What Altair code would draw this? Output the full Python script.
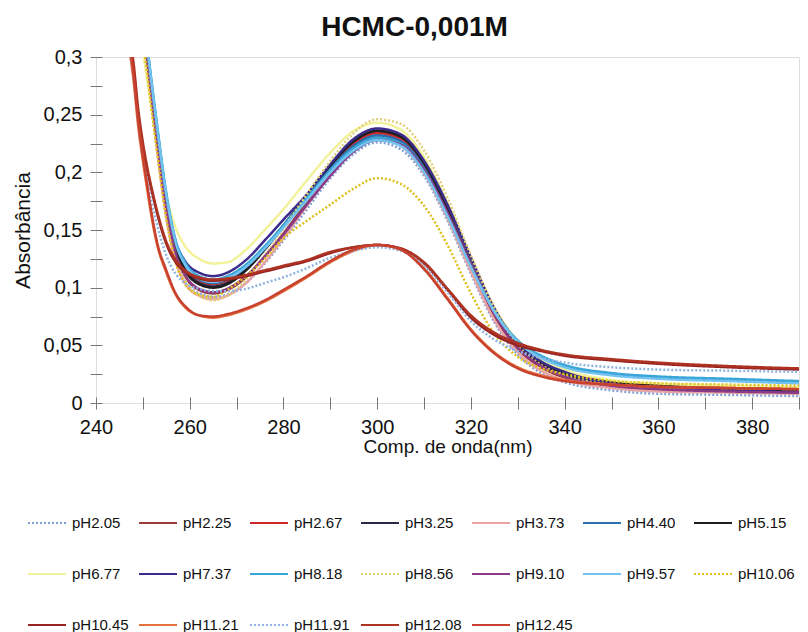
import altair as alt
import pandas as pd

# ---------------- data ----------------
wavelengths = [247, 248, 249, 250, 251, 252, 253, 255, 257, 259, 262, 265, 268, 272, 276, 280,
               285, 290, 295, 300, 305, 310, 315, 320, 325, 330, 335, 340, 350, 360, 375, 390]

series_names = ["pH2.05", "pH2.25", "pH2.67", "pH3.25", "pH3.73", "pH4.40", "pH5.15",
                "pH6.77", "pH7.37", "pH8.18", "pH8.56", "pH9.10", "pH9.57", "pH10.06",
                "pH10.45", "pH11.21", "pH11.91", "pH12.08", "pH12.45"]

series_colors = ["#7f9fd6", "#9c3a3a", "#d0282a", "#262a48", "#e8a4a4", "#2c6fad", "#1e1e1e",
                 "#f2f29a", "#3b2c8c", "#3aa6d8", "#e2cf78", "#8b3a86", "#72c3f0", "#e0bf1c",
                 "#962222", "#e4703e", "#8fb3e3", "#ad3222", "#c8402e"]

series_dashes = [[2, 2], [1, 0], [1, 0], [1, 0], [1, 0], [1, 0], [1, 0],
                 [1, 0], [1, 0], [1, 0], [2, 2], [1, 0], [1, 0], [2, 2],
                 [1, 0], [1, 0], [2, 2], [1, 0], [1, 0]]

ph2_05 = [0.41, 0.38, 0.35, 0.32, 0.29, 0.255, 0.222, 0.163, 0.125, 0.106, 0.095, 0.092, 0.094, 0.104, 0.121, 0.141,
          0.168, 0.195, 0.216, 0.226, 0.220, 0.197, 0.158, 0.112, 0.070, 0.042, 0.026, 0.018, 0.011, 0.008, 0.007, 0.006]
ph2_25 = [0.41, 0.38, 0.35, 0.32, 0.29, 0.256, 0.224, 0.166, 0.128, 0.110, 0.098, 0.095, 0.098, 0.109, 0.127, 0.147,
          0.174, 0.200, 0.222, 0.232, 0.227, 0.204, 0.165, 0.119, 0.076, 0.047, 0.031, 0.022, 0.015, 0.012, 0.011, 0.010]
ph2_67 = [0.41, 0.38, 0.35, 0.32, 0.292, 0.259, 0.228, 0.171, 0.134, 0.117, 0.106, 0.103, 0.106, 0.117, 0.134, 0.153,
          0.179, 0.204, 0.225, 0.234, 0.229, 0.206, 0.167, 0.121, 0.079, 0.050, 0.035, 0.026, 0.019, 0.016, 0.014, 0.013]
ph3_25 = [0.42, 0.39, 0.36, 0.33, 0.296, 0.262, 0.231, 0.173, 0.134, 0.116, 0.104, 0.101, 0.104, 0.116, 0.134, 0.154,
          0.180, 0.206, 0.227, 0.236, 0.231, 0.208, 0.170, 0.124, 0.080, 0.050, 0.034, 0.025, 0.017, 0.014, 0.012, 0.011]
ph3_73 = [0.41, 0.38, 0.35, 0.32, 0.288, 0.253, 0.220, 0.161, 0.123, 0.104, 0.093, 0.090, 0.093, 0.104, 0.122, 0.143,
          0.171, 0.198, 0.219, 0.229, 0.223, 0.199, 0.160, 0.114, 0.072, 0.044, 0.028, 0.020, 0.013, 0.010, 0.009, 0.008]
ph4_40 = [0.43, 0.40, 0.37, 0.34, 0.305, 0.272, 0.240, 0.180, 0.139, 0.120, 0.107, 0.104, 0.107, 0.118, 0.135, 0.154,
          0.179, 0.203, 0.223, 0.232, 0.227, 0.204, 0.166, 0.121, 0.081, 0.054, 0.040, 0.032, 0.025, 0.022, 0.020, 0.018]
ph5_15 = [0.42, 0.39, 0.36, 0.33, 0.297, 0.263, 0.232, 0.173, 0.134, 0.115, 0.103, 0.100, 0.103, 0.115, 0.133, 0.153,
          0.180, 0.206, 0.227, 0.236, 0.231, 0.208, 0.169, 0.123, 0.080, 0.051, 0.035, 0.026, 0.018, 0.015, 0.013, 0.012]
ph6_77 = [0.40, 0.37, 0.335, 0.305, 0.278, 0.250, 0.224, 0.180, 0.152, 0.136, 0.125, 0.121, 0.122, 0.133, 0.150, 0.168,
          0.193, 0.217, 0.236, 0.243, 0.237, 0.213, 0.173, 0.126, 0.083, 0.054, 0.038, 0.029, 0.020, 0.017, 0.015, 0.014]
ph7_37 = [0.42, 0.39, 0.36, 0.33, 0.300, 0.266, 0.235, 0.178, 0.140, 0.123, 0.113, 0.110, 0.113, 0.124, 0.141, 0.159,
          0.181, 0.207, 0.229, 0.238, 0.233, 0.210, 0.172, 0.126, 0.082, 0.052, 0.036, 0.027, 0.017, 0.013, 0.011, 0.009]
ph8_18 = [0.43, 0.40, 0.37, 0.34, 0.308, 0.274, 0.242, 0.182, 0.141, 0.122, 0.110, 0.107, 0.110, 0.120, 0.136, 0.154,
          0.178, 0.202, 0.221, 0.230, 0.225, 0.202, 0.164, 0.119, 0.080, 0.054, 0.041, 0.033, 0.026, 0.023, 0.021, 0.019]
ph8_56 = [0.41, 0.38, 0.35, 0.315, 0.285, 0.252, 0.221, 0.164, 0.126, 0.107, 0.093, 0.089, 0.093, 0.107, 0.128, 0.151,
          0.181, 0.210, 0.234, 0.246, 0.242, 0.219, 0.178, 0.128, 0.082, 0.050, 0.033, 0.024, 0.016, 0.014, 0.013, 0.012]
ph9_10 = [0.42, 0.39, 0.36, 0.33, 0.295, 0.260, 0.228, 0.169, 0.130, 0.111, 0.099, 0.096, 0.099, 0.110, 0.127, 0.146,
          0.172, 0.197, 0.218, 0.228, 0.224, 0.202, 0.165, 0.120, 0.077, 0.048, 0.032, 0.023, 0.015, 0.012, 0.010, 0.009]
ph9_57 = [0.43, 0.40, 0.37, 0.34, 0.306, 0.272, 0.240, 0.180, 0.139, 0.120, 0.108, 0.105, 0.108, 0.118, 0.134, 0.152,
          0.176, 0.200, 0.219, 0.228, 0.223, 0.200, 0.162, 0.118, 0.079, 0.053, 0.039, 0.031, 0.024, 0.021, 0.019, 0.017]
ph10_06 = [0.41, 0.38, 0.35, 0.315, 0.284, 0.250, 0.219, 0.160, 0.122, 0.103, 0.094, 0.092, 0.098, 0.110, 0.125, 0.143,
           0.158, 0.172, 0.186, 0.195, 0.190, 0.171, 0.137, 0.095, 0.060, 0.040, 0.030, 0.025, 0.019, 0.017, 0.016, 0.015]
ph10_45 = [0.315, 0.29, 0.25, 0.222, 0.200, 0.182, 0.165, 0.138, 0.122, 0.114, 0.108, 0.106, 0.107, 0.110, 0.114, 0.118,
           0.123, 0.130, 0.135, 0.137, 0.134, 0.121, 0.098, 0.074, 0.059, 0.050, 0.045, 0.041, 0.037, 0.034, 0.031, 0.029]
ph11_21 = [0.31, 0.28, 0.24, 0.21, 0.183, 0.158, 0.138, 0.113, 0.094, 0.083, 0.076, 0.074, 0.076, 0.081, 0.088, 0.097,
           0.109, 0.122, 0.132, 0.137, 0.133, 0.117, 0.091, 0.064, 0.044, 0.031, 0.024, 0.020, 0.016, 0.014, 0.013, 0.012]
ph11_91 = [0.31, 0.285, 0.245, 0.215, 0.192, 0.172, 0.155, 0.128, 0.112, 0.104, 0.099, 0.097, 0.097, 0.099, 0.104, 0.109,
           0.117, 0.126, 0.132, 0.135, 0.132, 0.119, 0.096, 0.071, 0.055, 0.045, 0.039, 0.035, 0.031, 0.029, 0.028, 0.027]
ph12_08 = [0.32, 0.295, 0.255, 0.226, 0.203, 0.184, 0.167, 0.140, 0.124, 0.115, 0.109, 0.107, 0.108, 0.111, 0.115, 0.119,
           0.124, 0.131, 0.135, 0.137, 0.134, 0.122, 0.099, 0.076, 0.061, 0.052, 0.046, 0.042, 0.038, 0.035, 0.032, 0.030]
ph12_45 = [0.315, 0.285, 0.245, 0.214, 0.187, 0.161, 0.140, 0.115, 0.095, 0.084, 0.076, 0.075, 0.077, 0.082, 0.089, 0.098,
           0.110, 0.123, 0.133, 0.137, 0.133, 0.116, 0.090, 0.063, 0.043, 0.030, 0.023, 0.019, 0.016, 0.014, 0.013, 0.012]

all_series = [ph2_05, ph2_25, ph2_67, ph3_25, ph3_73, ph4_40, ph5_15, ph6_77, ph7_37, ph8_18,
              ph8_56, ph9_10, ph9_57, ph10_06, ph10_45, ph11_21, ph11_91, ph12_08, ph12_45]

x_tick_values = [240, 250, 260, 270, 280, 290, 300, 310, 320, 330, 340, 350, 360, 370, 380, 390]
y_tick_values = [0, 0.025, 0.05, 0.075, 0.1, 0.125, 0.15, 0.175, 0.2, 0.225, 0.25, 0.275, 0.3]

rows = []
for name, vals in zip(series_names, all_series):
    for w, a in zip(wavelengths, vals):
        rows.append({"nm": w, "A": a, "serie": name})
df = pd.DataFrame(rows)

FONT = "Liberation Sans"

legend_opts = dict(
    title=None, orient="none", legendX=-69, legendY=446, columns=7, direction="horizontal",
    symbolType="stroke", symbolSize=1444, symbolStrokeWidth=2, labelFont=FONT, labelFontSize=15,
    labelColor="#111", labelOffset=5, columnPadding=6, rowPadding=23, gridAlign="all",
)

chart = alt.Chart(df).mark_line(clip=True, strokeWidth=2.5, interpolate="monotone").encode(
    x=alt.X("nm:Q",
            scale=alt.Scale(domain=[240, 390], nice=False, zero=False),
            axis=alt.Axis(values=x_tick_values,
                          labelExpr="datum.value % 20 == 0 && datum.value < 390 ? datum.value : ''",
                          title="Comp. de onda(nm)", titleFont=FONT, titleFontSize=19,
                          titleFontWeight="normal", titleColor="#111", titlePadding=0,
                          labelFont=FONT, labelFontSize=20, labelColor="#111", labelPadding=8,
                          tickSize=12, offset=-6, tickColor="#777", tickWidth=1,
                          domain=False, grid=False, labelFlush=False, labelOverlap=False)),
    y=alt.Y("A:Q",
            scale=alt.Scale(domain=[0, 0.3], nice=False),
            axis=alt.Axis(values=y_tick_values,
                          labelExpr="round(datum.value*1000) % 50 == 0 ? replace(format(datum.value, '.2~f'), '.', ',') : ''",
                          title="Absorbância", titleFont=FONT, titleFontSize=21,
                          titleFontWeight="normal", titleColor="#111", titlePadding=10,
                          labelFont=FONT, labelFontSize=20, labelColor="#111", labelPadding=8,
                          tickSize=12, offset=-6, tickColor="#777", tickWidth=1,
                          domain=False, grid=False, labelFlush=False, labelOverlap=False)),
    color=alt.Color("serie:N", scale=alt.Scale(domain=series_names, range=series_colors),
                    legend=alt.Legend(**legend_opts)),
    strokeDash=alt.StrokeDash("serie:N", scale=alt.Scale(domain=series_names, range=series_dashes),
                              legend=alt.Legend(**legend_opts)),
).properties(
    width=703, height=346,
    title=alt.TitleParams("HCMC-0,001M", font=FONT, fontSize=28, fontWeight="bold",
                          color="#111", anchor="middle", dx=-33, offset=5),
    autosize=alt.AutoSizeParams(type="none"),
    padding={"left": 96, "top": 57, "right": 9, "bottom": 229},
).configure_view(stroke="black", strokeWidth=2).configure(background="white")

chart.save("out.html", embed_options={"renderer": "svg", "actions": False})
